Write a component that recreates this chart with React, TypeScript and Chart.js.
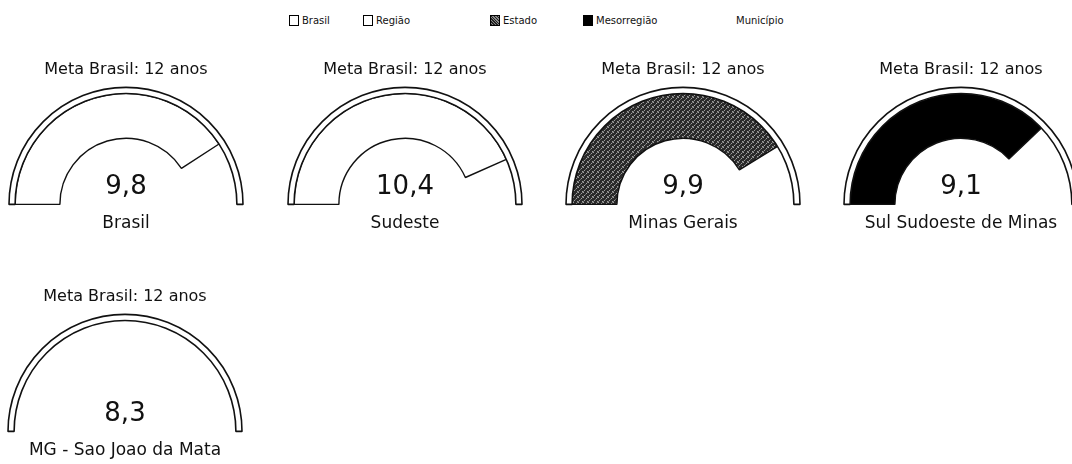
import React, { useEffect, useRef } from 'react';
import { Chart, registerables } from 'chart.js';

Chart.register(...registerables);

// ---- data ----
const GOAL = 12;
const goalLabel = 'Meta Brasil: 12 anos';
const regions = ['Brasil', 'Sudeste', 'Minas Gerais', 'Sul Sudoeste de Minas', 'MG - Sao Joao da Mata'];
const values = [9.8, 10.4, 9.9, 9.1, 8.3];
const valueLabels = ['9,8', '10,4', '9,9', '9,1', '8,3'];
const levels = ['Brasil', 'Região', 'Estado', 'Mesorregião', 'Município'];

// ---- styles / layout ----
const FONT = '"DejaVu Sans", Verdana, sans-serif';
const INK = '#111111';
const gaugePos = [
  { cx: 126, top: 52 },
  { cx: 405, top: 52 },
  { cx: 683, top: 52 },
  { cx: 961, top: 52 },
  { cx: 125, top: 279 },
];
const legendPos = [289, 363, 490, 583, 723];
const CW = 250;
const CH = 184;
const R = 117;

function makeStipple(): CanvasPattern | string {
  const c = document.createElement('canvas');
  c.width = 5;
  c.height = 5;
  const g = c.getContext('2d');
  if (!g) return '#444444';
  g.fillStyle = '#2a2a2a';
  g.fillRect(0, 0, 5, 5);
  g.fillStyle = '#a0a0a0';
  g.fillRect(0, 0, 1, 1);
  g.fillRect(3, 1, 1, 1);
  g.fillRect(1, 3, 1, 1);
  g.fillRect(4, 4, 1, 1);
  g.fillStyle = '#6a6a6a';
  g.fillRect(2, 2, 1, 1);
  g.fillRect(4, 0, 1, 1);
  g.fillRect(0, 4, 1, 1);
  const p = g.createPattern(c, 'repeat');
  return p || '#444444';
}

function levelFill(level: number): any {
  if (level === 0 || level === 1) return '#ffffff';
  if (level === 2) return makeStipple();
  if (level === 3) return '#000000';
  return 'rgba(0,0,0,0)';
}

const centerText = {
  id: 'centerText',
  afterDatasetsDraw(chart: any, _args: any, opts: any) {
    const meta = chart.getDatasetMeta(0);
    const arc = meta.data[0];
    if (!arc) return;
    const ctx = chart.ctx;
    ctx.save();
    ctx.font = `26px ${FONT}`;
    ctx.fillStyle = INK;
    ctx.textAlign = 'center';
    ctx.textBaseline = 'alphabetic';
    ctx.fillText(opts.text, arc.x, arc.y - 10);
    ctx.restore();
  },
};

function Gauge({ idx }: { idx: number }) {
  const ref = useRef<HTMLCanvasElement>(null);
  useEffect(() => {
    if (!ref.current) return;
    const fill = levelFill(idx);
    const hasBorder = idx < 4;
    const chart = new Chart(ref.current, {
      type: 'doughnut',
      data: {
        labels: [regions[idx], ''],
        datasets: [
          {
            data: [GOAL],
            backgroundColor: ['#ffffff'],
            borderColor: [INK],
            borderWidth: 1.6,
            weight: 6,
          } as any,
          {
            data: [values[idx], GOAL - values[idx]],
            backgroundColor: [fill, 'rgba(0,0,0,0)'],
            borderColor: [hasBorder ? INK : 'rgba(0,0,0,0)', 'rgba(0,0,0,0)'],
            borderWidth: [hasBorder ? 1.4 : 0, 0],
            weight: 44,
          } as any,
        ],
      },
      options: {
        responsive: false,
        maintainAspectRatio: false,
        animation: false,
        events: [],
        rotation: -90,
        circumference: 180,
        cutout: '56.5%',
        radius: R,
        layout: { padding: 0 },
        plugins: {
          legend: { display: false },
          tooltip: { enabled: false },
          subtitle: {
            display: true,
            text: goalLabel,
            position: 'top',
            color: INK,
            font: { family: FONT, size: 16, weight: 'normal' },
            padding: { top: 8, bottom: 8 },
          },
          title: {
            display: true,
            text: regions[idx],
            position: 'bottom',
            color: INK,
            font: { family: FONT, size: 17, weight: 'normal' },
            padding: { top: 9, bottom: 2 },
          },
          centerText: { text: valueLabels[idx] },
        } as any,
      },
      plugins: [centerText],
    });
    return () => chart.destroy();
  }, [idx]);
  const p = gaugePos[idx];
  return (
    <canvas
      ref={ref}
      width={CW}
      height={CH}
      style={{ position: 'absolute', left: p.cx - CW / 2, top: p.top, width: CW, height: CH }}
    />
  );
}

function Legend() {
  return (
    <>
      {levels.map((lv, i) => {
        const hasBox = i < 4;
        const bg = i === 2 ? 'repeating-linear-gradient(45deg,#222 0 1px,#888 1px 2px)' : i === 3 ? '#000' : '#fff';
        return (
          <div
            key={lv}
            style={{
              position: 'absolute',
              left: legendPos[i],
              top: 14,
              height: 13,
              display: 'flex',
              alignItems: 'center',
              fontFamily: FONT,
              fontSize: 10,
              color: INK,
              whiteSpace: 'nowrap',
            }}
          >
            <span
              style={{
                display: 'inline-block',
                width: 8,
                height: 9,
                border: hasBox ? '1.5px solid #000' : '1.5px solid transparent',
                background: hasBox ? bg : 'transparent',
                marginRight: 3,
              }}
            />
            <span>{lv}</span>
          </div>
        );
      })}
    </>
  );
}

export default function App() {
  return (
    <div
      style={{
        position: 'absolute',
        left: 0,
        top: 0,
        width: 1072,
        height: 464,
        overflow: 'hidden',
        background: '#ffffff',
      }}
    >
      <Legend />
      {regions.map((_, i) => (
        <Gauge key={i} idx={i} />
      ))}
    </div>
  );
}
